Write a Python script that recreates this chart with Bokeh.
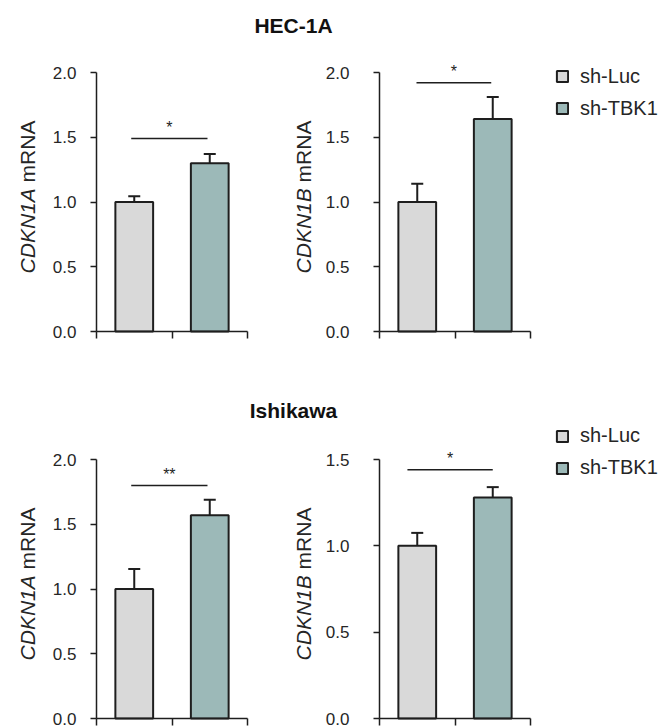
import numpy as np
from bokeh.plotting import figure
from bokeh.models import (ColumnDataSource, Whisker, TeeHead, Legend, LegendItem, Label,
                          FixedTicker, PrintfTickFormatter, Range1d, LinearAxis,
                          CustomJSTickFormatter)
from bokeh.embed import file_html
from bokeh.resources import INLINE
from bokeh.core.properties import value

# ---------------- data ----------------
groups = ["sh-Luc", "sh-TBK1"]
cell_lines = ["HEC-1A", "Ishikawa"]
genes = ["CDKN1A", "CDKN1B", "CDKN1A", "CDKN1B"]
luc_mean = [1.00, 1.00, 1.00, 1.00]
luc_err = [0.045, 0.14, 0.155, 0.075]
tbk_mean = [1.30, 1.64, 1.57, 1.28]
tbk_err = [0.07, 0.17, 0.12, 0.06]
y_max = [2.0, 2.0, 2.0, 1.5]
y_ticks = [[0, 0.5, 1.0, 1.5, 2.0], [0, 0.5, 1.0, 1.5, 2.0],
           [0, 0.5, 1.0, 1.5, 2.0], [0, 0.5, 1.0, 1.5]]
sig_y = [1.49, 1.92, 1.80, 1.44]
sig_x0 = [0.46, 0.49, 0.46, 0.37]
sig_x1 = [1.47, 1.48, 1.47, 1.50]
sig_text = ["*", "*", "**", "*"]

# ---------------- layout / style ----------------
W, H = 663, 727
COL_X = [96, 379]                 # pixel x of each column's y axis
AX_W = 151                        # pixel width of the x axis (2 units)
ROW_Y = [(72, 331), (459, 718)]   # pixel top/bottom of each row's plotting area
LABEL_X = [27, 302.5]             # centre of the rotated y titles
TITLE_Y = [25, 410]               # centre of the row titles
LEGEND_GLYPH_TOP = [70.7, 430]
STANDOFF = [14, 24]
FONT = "Liberation Sans"
C_LUC = "#d9d9d9"
C_TBK = "#9cb9b8"
C_LINE = "#1e1e1e"
C_TEXT = "#262626"
CW = {'C': 0.722, 'D': 0.722, 'K': 0.667, 'N': 0.722, '1': 0.556, 'A': 0.667,
      'B': 0.667, ' ': 0.278, 'm': 0.833, 'R': 0.722}


def tw(s, fs):
    return sum(CW.get(c, 0.6) for c in s) * fs


kx = AX_W / 2.0
x_off = [0.0, (COL_X[1] - COL_X[0]) / kx]


def y_range_for(i):
    top, bot = ROW_Y[i // 2]
    ky = (bot - top) / y_max[i]
    return Range1d(-(H - bot) / ky, bot / ky)


p = figure(width=W, height=H, title=None,
           x_range=Range1d(-COL_X[0] / kx, (W - COL_X[0]) / kx),
           y_range=y_range_for(0),
           min_border_left=0, min_border_right=0, min_border_top=0, min_border_bottom=0,
           output_backend="svg", toolbar_location=None,
           outline_line_color=None, background_fill_color="white",
           border_fill_color="white")
p.grid.visible = False
p.extra_y_ranges = {"r3": y_range_for(2), "r4": y_range_for(3)}
range_names = ["default", "default", "r3", "r4"]


def style_axis(ax):
    ax.axis_line_color = C_LINE
    ax.axis_line_width = 1.5
    ax.major_tick_line_color = C_LINE
    ax.major_tick_line_width = 1.5
    ax.major_tick_in = 0
    ax.minor_tick_line_color = None


for i in range(4):
    c, r = i % 2, i // 2
    yr = range_names[i]
    xo = x_off[c]

    # axes (fixed inside the single plotting area)
    if i == 0:
        ya, xa = p.yaxis[0], p.xaxis[0]
    else:
        ya = LinearAxis(y_range_name=yr)
        xa = LinearAxis(y_range_name=yr)
        p.add_layout(ya, "left")
        p.add_layout(xa, "below")
    ya.fixed_location = xo
    ya.bounds = (0, y_max[i])
    ya.ticker = FixedTicker(ticks=y_ticks[i])
    ya.formatter = PrintfTickFormatter(format="%.1f")
    ya.major_label_text_font = FONT
    ya.major_label_text_font_size = "17px"
    ya.major_label_text_color = C_TEXT
    ya.major_label_standoff = STANDOFF[c]
    ya.major_tick_out = 6
    style_axis(ya)

    xa.fixed_location = 0
    xa.bounds = (xo, xo + 2)
    xa.ticker = FixedTicker(ticks=[xo, xo + 1, xo + 2])
    xa.formatter = CustomJSTickFormatter(code="return ''")
    xa.major_label_standoff = 0
    xa.major_tick_out = 7
    style_axis(xa)

    # bars
    r_luc = p.vbar(x=[xo + 0.5], top=[luc_mean[i]], width=0.5, bottom=0, y_range_name=yr,
                   fill_color=C_LUC, line_color=C_LINE, line_width=2)
    r_tbk = p.vbar(x=[xo + 1.5], top=[tbk_mean[i]], width=0.5, bottom=0, y_range_name=yr,
                   fill_color=C_TBK, line_color=C_LINE, line_width=2)

    # error bars (upper only)
    src = ColumnDataSource(dict(x=[xo + 0.5, xo + 1.5],
                                lower=[luc_mean[i], tbk_mean[i]],
                                upper=[luc_mean[i] + luc_err[i], tbk_mean[i] + tbk_err[i]]))
    p.add_layout(Whisker(base="x", lower="lower", upper="upper", source=src,
                         dimension="height", y_range_name=yr, level="overlay",
                         line_color=C_LINE, line_width=2,
                         upper_head=TeeHead(size=12, line_width=2, line_color=C_LINE),
                         lower_head=None))

    # significance bracket
    p.segment(x0=[xo + sig_x0[i]], y0=[sig_y[i]], x1=[xo + sig_x1[i]], y1=[sig_y[i]],
              y_range_name=yr, line_color=C_LINE, line_width=1.5)
    p.text(x=[xo + (sig_x0[i] + sig_x1[i]) / 2], y=[sig_y[i]], text=[sig_text[i]],
           y_range_name=yr, text_align="center", text_baseline="middle", y_offset=-11,
           text_font=value(FONT), text_font_size="16px", text_color=C_LINE)

    # y title: italic gene symbol + regular "mRNA"
    fs = 21
    top, bot = ROW_Y[r]
    center_py = (top + bot) / 2 - 5
    start_sy = H - (center_py + tw(genes[i] + " mRNA", fs) / 2)
    for txt, dy, style in [(genes[i], 0, "italic"),
                           ("mRNA", tw(genes[i] + " ", fs), "normal")]:
        p.add_layout(Label(x=LABEL_X[c], y=start_sy + dy, x_units="screen", y_units="screen",
                           text=txt, angle=np.pi / 2, text_align="left",
                           text_baseline="middle", text_font=FONT,
                           text_font_style=style, text_font_size=f"{fs}px",
                           text_color=C_TEXT))

    # legend at the right of each row
    if c == 1:
        item_h, gap = 22, 9
        leg_h = item_h * 2 + gap
        leg_top = LEGEND_GLYPH_TOP[r] - (item_h - 14) / 2
        leg = Legend(items=[LegendItem(label=groups[0], renderers=[r_luc]),
                            LegendItem(label=groups[1], renderers=[r_tbk])],
                     location=(555, H - (leg_top + leg_h)), padding=0, margin=0,
                     border_line_color=None, background_fill_alpha=0,
                     glyph_width=14, glyph_height=14, label_height=item_h, spacing=gap,
                     label_standoff=11, label_text_font=FONT,
                     label_text_font_size="20px", label_text_color=C_TEXT)
        p.add_layout(leg)

# row titles
for r, name in enumerate(cell_lines):
    p.add_layout(Label(x=293, y=H - TITLE_Y[r], x_units="screen", y_units="screen",
                       text=name, text_align="center", text_baseline="middle",
                       text_font=FONT, text_font_style="bold", text_font_size="21px",
                       text_color="#111111"))

with open("out.html", "w") as fh:
    fh.write(file_html(p, INLINE))
